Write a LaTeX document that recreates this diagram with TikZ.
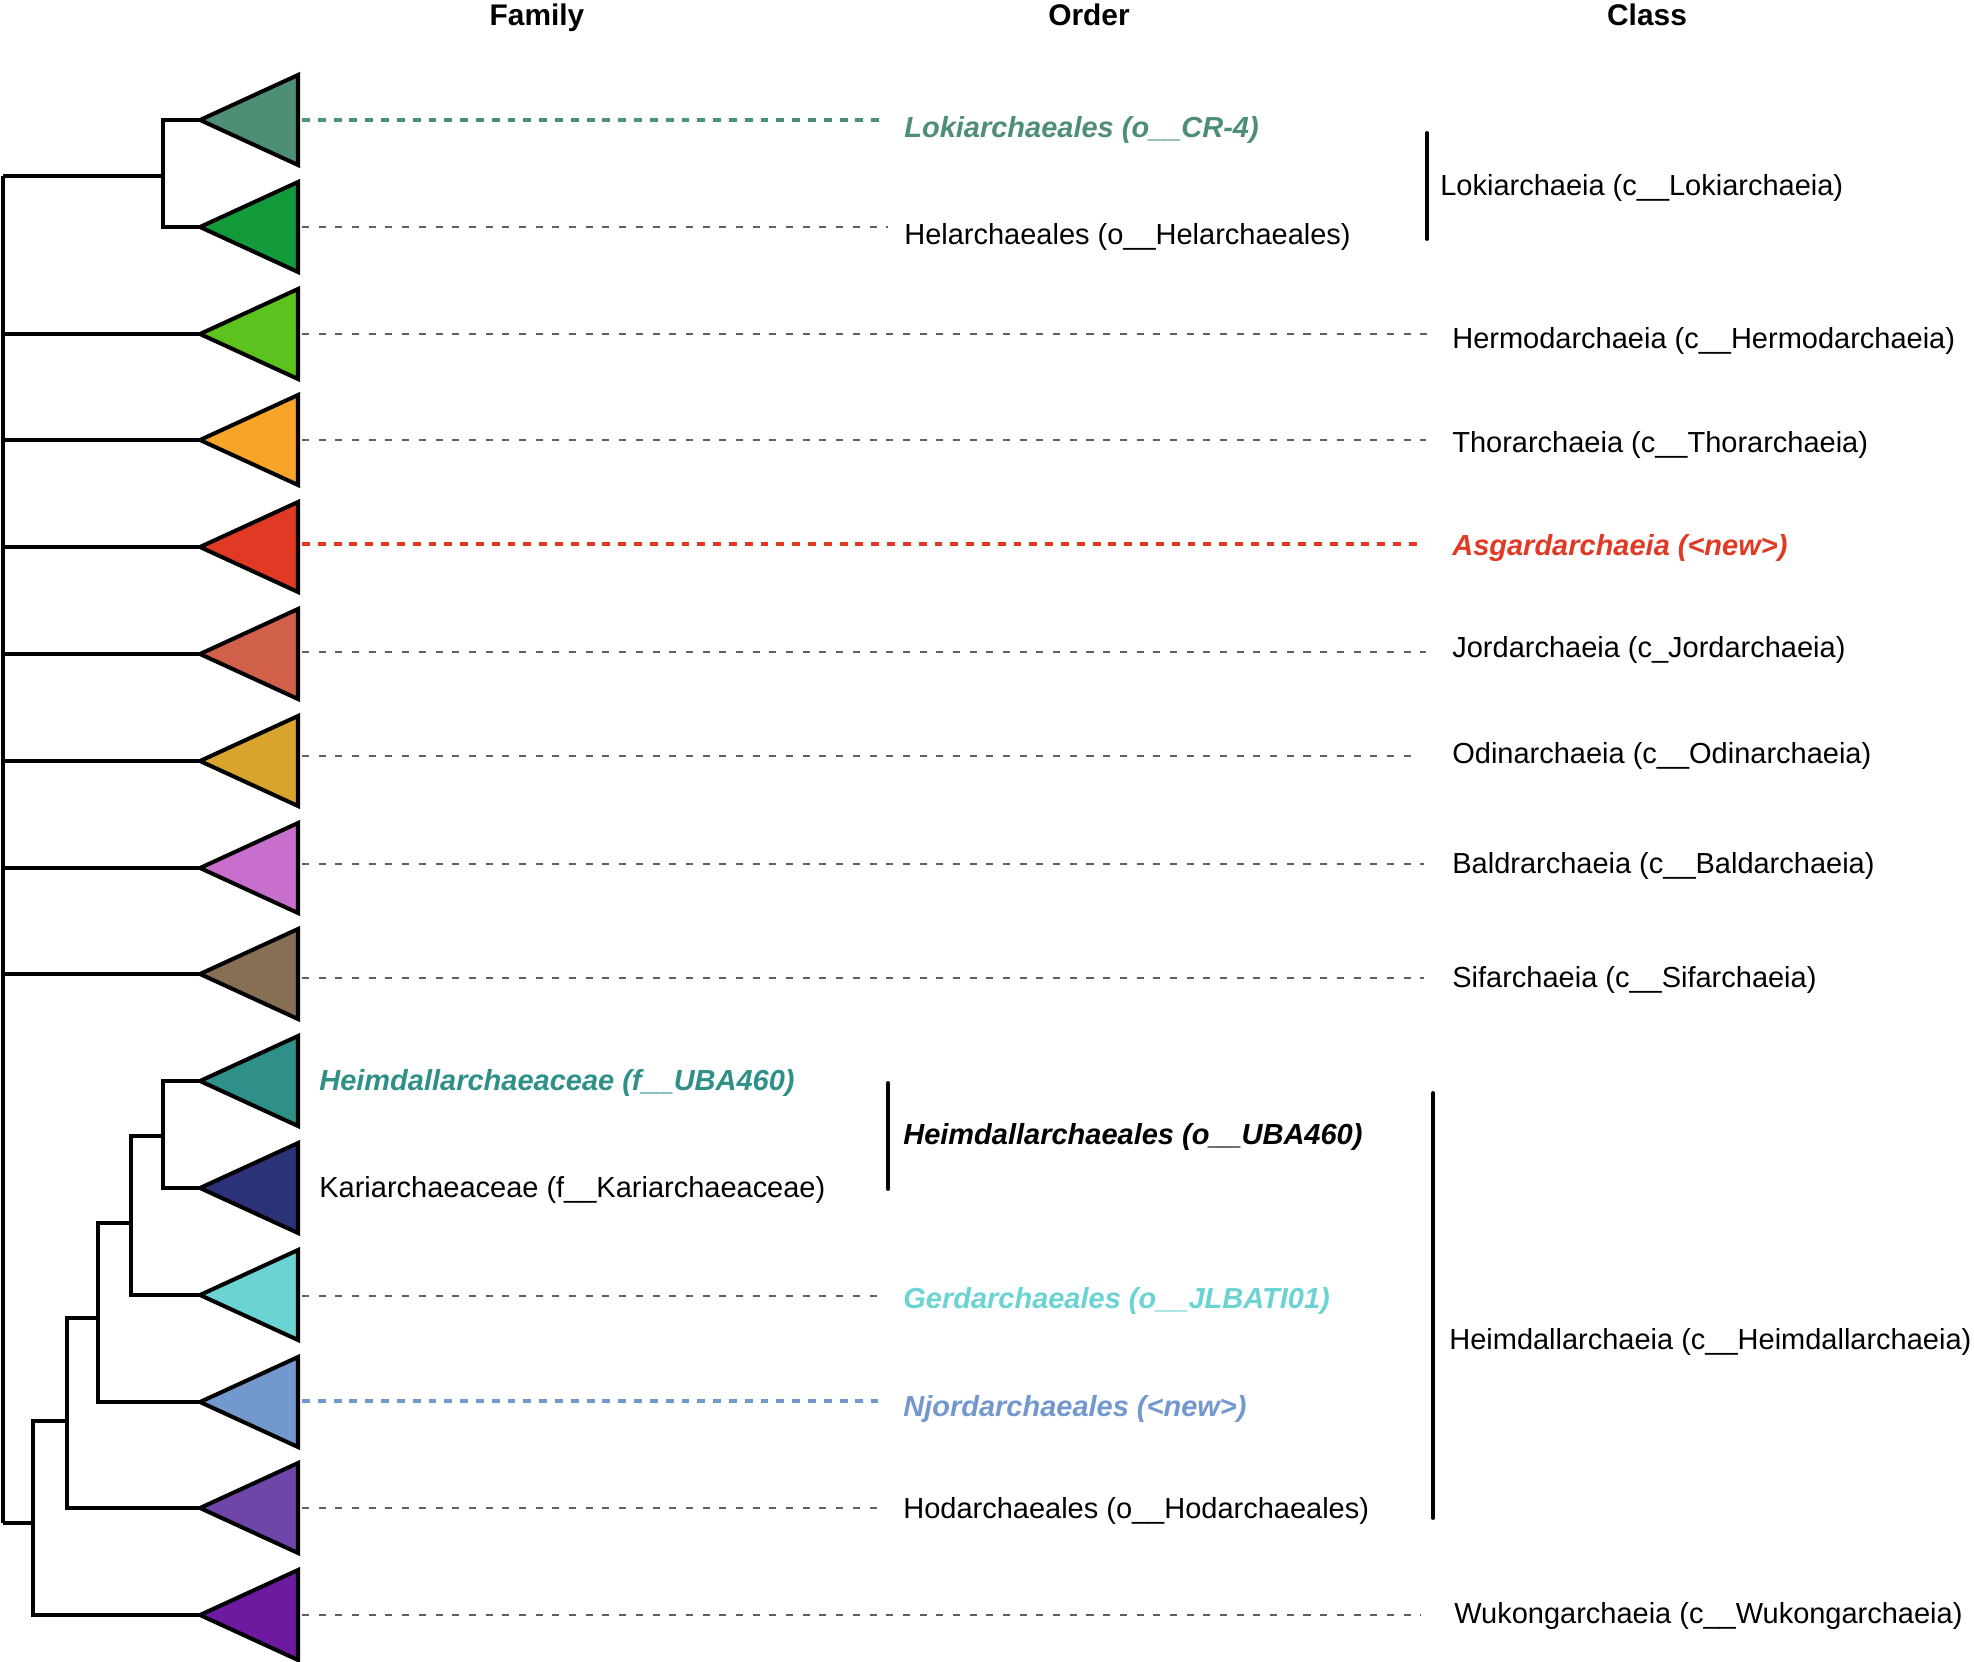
\documentclass[tikz,border=0pt]{standalone}
\usepackage{fontspec}
\setmainfont{Liberation Sans}
\usepackage{tikz}
\usetikzlibrary{positioning,calc}
\definecolor{cLoki}{HTML}{4E8E74}
\definecolor{cHel}{HTML}{139A3A}
\definecolor{cHermod}{HTML}{5CC21E}
\definecolor{cThor}{HTML}{F7A428}
\definecolor{cAsgard}{HTML}{E03A25}
\definecolor{cJord}{HTML}{D06049}
\definecolor{cOdin}{HTML}{D9A42E}
\definecolor{cBaldr}{HTML}{C86FCD}
\definecolor{cSif}{HTML}{876F55}
\definecolor{cHeim}{HTML}{2E9089}
\definecolor{cKari}{HTML}{2B3278}
\definecolor{cGerd}{HTML}{6BD3D2}
\definecolor{cNjord}{HTML}{7298CD}
\definecolor{cHod}{HTML}{6E45A8}
\definecolor{cWukong}{HTML}{6E1AA0}
\definecolor{guidegray}{HTML}{606060}
\tikzset{branch/.style={draw=black,line width=2.3pt,line join=miter},
  tri/.style={draw=black,line width=2.3pt,line join=miter},
  guide/.style={draw=guidegray,line width=0.85pt,dash pattern=on 4pt off 5.5pt},
  hilite/.style={line width=1.9pt,dash pattern=on 4.5pt off 4.5pt},
  bar/.style={draw=black,line width=2.2pt,line cap=round},
  lab/.style={anchor=west,inner sep=0pt,font=\fontsize{16.5}{19}\selectfont},
  newlab/.style={lab,font=\fontsize{16.5}{19}\selectfont\bfseries\itshape},
  head/.style={anchor=base,inner sep=0pt,font=\fontsize{17}{20}\selectfont\bfseries}}

\begin{document}
\begin{tikzpicture}[x=0.02cm, y=-0.02cm]
        \useasboundingbox (0,0) rectangle (1974,1662);
        % headers
        \node[head] (hfam) at (537,26) {Family};
        \node[head] (hord) at (1089,26) {Order};
        \node[head] (hcls) at (1647,26) {Class};
        % leaves (triangle tips) and their right edges
        \coordinate (l1) at (200,120);  \coordinate (e1) at (302,120);
        \coordinate (l2) at (200,227);  \coordinate (e2) at (302,227);
        \coordinate (l3) at (200,334);  \coordinate (e3) at (302,334);
        \coordinate (l4) at (200,440);  \coordinate (e4) at (302,440);
        \coordinate (l5) at (200,547);  \coordinate (e5) at (302,544);
        \coordinate (l6) at (200,654);  \coordinate (e6) at (302,652);
        \coordinate (l7) at (200,761);  \coordinate (e7) at (302,756);
        \coordinate (l8) at (200,868);  \coordinate (e8) at (302,864);
        \coordinate (l9) at (200,974);  \coordinate (e9) at (302,978);
        \coordinate (l10) at (200,1081);
        \coordinate (l11) at (200,1188);
        \coordinate (l12) at (200,1295); \coordinate (e12) at (302,1296);
        \coordinate (l13) at (200,1402); \coordinate (e13) at (302,1401);
        \coordinate (l14) at (200,1508); \coordinate (e14) at (302,1508);
        \coordinate (l15) at (200,1615); \coordinate (e15) at (302,1615);
        % inner nodes
        \coordinate (rootT) at (3,176);
        \coordinate (rootB) at (3,1523);
        \coordinate (nL) at (163,176);
        \coordinate (nA) at (33,1523);
        \coordinate (nB) at (67,1421);
        \coordinate (nC) at (98,1318);
        \coordinate (nD) at (131,1223);
        \coordinate (nE) at (163,1136);
        % tree
        \draw[branch] (rootT) -- (rootB);
        \draw[branch] (rootT) -- (nL);
        \draw[branch] (l1) -| (nL) |- (l2);
        \draw[branch] (l3) -- (l3 -| rootT);
        \draw[branch] (l4) -- (l4 -| rootT);
        \draw[branch] (l5) -- (l5 -| rootT);
        \draw[branch] (l6) -- (l6 -| rootT);
        \draw[branch] (l7) -- (l7 -| rootT);
        \draw[branch] (l8) -- (l8 -| rootT);
        \draw[branch] (l9) -- (l9 -| rootT);
        \draw[branch] (rootB) -- (nA);
        \draw[branch] (nB) -| (nA) |- (l15);
        \draw[branch] (nC) -| (nB) |- (l14);
        \draw[branch] (nD) -| (nC) |- (l13);
        \draw[branch] (nE) -| (nD) |- (l12);
        \draw[branch] (l10) -| (nE) |- (l11);
        % collapsed clades
        \draw[tri,fill=cLoki] (l1) -- ++(98,-45) -- ++(0,90) -- cycle;
        \draw[tri,fill=cHel] (l2) -- ++(98,-45) -- ++(0,90) -- cycle;
        \draw[tri,fill=cHermod] (l3) -- ++(98,-45) -- ++(0,90) -- cycle;
        \draw[tri,fill=cThor] (l4) -- ++(98,-45) -- ++(0,90) -- cycle;
        \draw[tri,fill=cAsgard] (l5) -- ++(98,-45) -- ++(0,90) -- cycle;
        \draw[tri,fill=cJord] (l6) -- ++(98,-45) -- ++(0,90) -- cycle;
        \draw[tri,fill=cOdin] (l7) -- ++(98,-45) -- ++(0,90) -- cycle;
        \draw[tri,fill=cBaldr] (l8) -- ++(98,-45) -- ++(0,90) -- cycle;
        \draw[tri,fill=cSif] (l9) -- ++(98,-45) -- ++(0,90) -- cycle;
        \draw[tri,fill=cHeim] (l10) -- ++(98,-45) -- ++(0,90) -- cycle;
        \draw[tri,fill=cKari] (l11) -- ++(98,-45) -- ++(0,90) -- cycle;
        \draw[tri,fill=cGerd] (l12) -- ++(98,-45) -- ++(0,90) -- cycle;
        \draw[tri,fill=cNjord] (l13) -- ++(98,-45) -- ++(0,90) -- cycle;
        \draw[tri,fill=cHod] (l14) -- ++(98,-45) -- ++(0,90) -- cycle;
        \draw[tri,fill=cWukong] (l15) -- ++(98,-45) -- ++(0,90) -- cycle;
        % family labels
        \node[newlab,text=cHeim] (f10) at (319,1083) {Heimdallarchaeaceae (f\_\_UBA460)};
        \node[lab] (f11) at (319,1190) {Kariarchaeaceae (f\_\_Kariarchaeaceae)};
        % order labels
        \node[newlab,text=cLoki] (o1) at (904,130) {Lokiarchaeales (o\_\_CR-4)};
        \node[lab] (o2) at (904,237) {Helarchaeales (o\_\_Helarchaeales)};
        \node[newlab] (o10) at (903,1137) {Heimdallarchaeales (o\_\_UBA460)};
        \node[newlab,text=cGerd] (o12) at (903,1301) {Gerdarchaeales (o\_\_JLBATI01)};
        \node[newlab,text=cNjord] (o13) at (903,1409) {Njordarchaeales (<new>)};
        \node[lab] (o14) at (903,1511) {Hodarchaeales (o\_\_Hodarchaeales)};
        % class labels
        \node[lab] (c1) at (1440,188) {Lokiarchaeia (c\_\_Lokiarchaeia)};
        \node[lab] (c3) at (1452,341) {Hermodarchaeia (c\_\_Hermodarchaeia)};
        \node[lab] (c4) at (1452,445) {Thorarchaeia (c\_\_Thorarchaeia)};
        \node[newlab,text=cAsgard] (c5) at (1452,548) {Asgardarchaeia (<new>)};
        \node[lab] (c6) at (1452,650) {Jordarchaeia (c\_Jordarchaeia)};
        \node[lab] (c7) at (1452,756) {Odinarchaeia (c\_\_Odinarchaeia)};
        \node[lab] (c8) at (1452,866) {Baldrarchaeia (c\_\_Baldarchaeia)};
        \node[lab] (c9) at (1452,980) {Sifarchaeia (c\_\_Sifarchaeia)};
        \node[lab] (c10) at (1449,1342) {Heimdallarchaeia (c\_\_Heimdallarchaeia)};
        \node[lab] (c15) at (1454,1616) {Wukongarchaeia (c\_\_Wukongarchaeia)};
        % guide lines
        \draw[hilite,cLoki,shorten >=13pt] (e1) -- (e1 -| o1.west);
        \draw[guide,shorten >=9pt] (e2) -- (e2 -| o2.west);
        \draw[guide,shorten >=11pt] (e3) -- (e3 -| c3.west);
        \draw[guide,shorten >=15pt] (e4) -- (e4 -| c4.west);
        \draw[hilite,cAsgard,shorten >=17pt] (e5) -- (e5 -| c5.west);
        \draw[guide,shorten >=15pt] (e6) -- (e6 -| c6.west);
        \draw[guide,shorten >=20pt] (e7) -- (e7 -| c7.west);
        \draw[guide,shorten >=16pt] (e8) -- (e8 -| c8.west);
        \draw[guide,shorten >=16pt] (e9) -- (e9 -| c9.west);
        \draw[guide,shorten >=10pt] (e12) -- (e12 -| o12.west);
        \draw[hilite,cNjord,shorten >=14pt] (e13) -- (e13 -| o13.west);
        \draw[guide,shorten >=12pt] (e14) -- (e14 -| o14.west);
        \draw[guide,shorten >=19pt] (e15) -- (e15 -| c15.west);
        % rank brackets
        \draw[bar] (1427,133) -- (1427,239);
        \draw[bar] (888,1083) -- (888,1189);
        \draw[bar] (1433,1093) -- (1433,1518);
\end{tikzpicture}
\end{document}
